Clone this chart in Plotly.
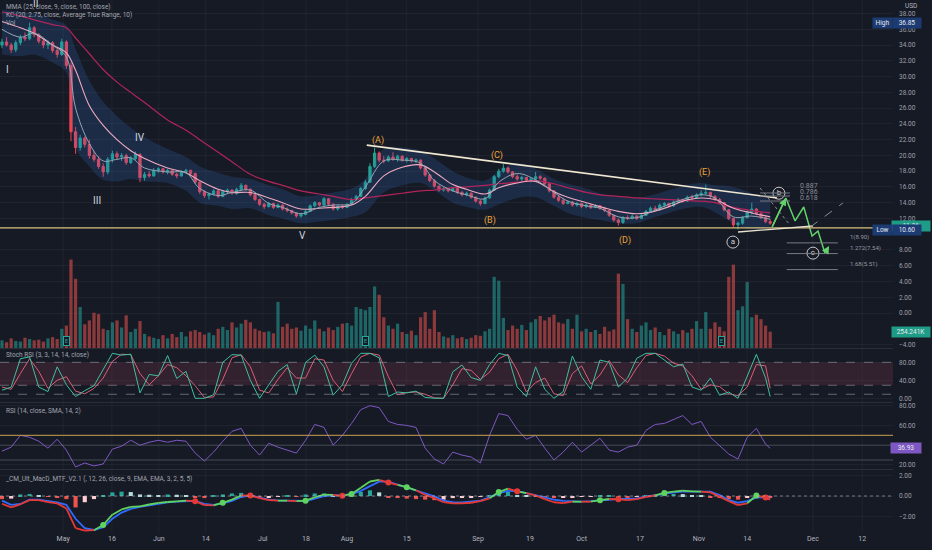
import plotly.graph_objects as go

### DATA ###

# daily candles, one per bar index
opens = [34.0, 34.4, 34.0, 33.4, 34.3, 35.0, 34.8, 36.2, 35.3, 34.5,
         34.0, 34.3, 33.3, 32.8, 34.4, 31.4, 23.0, 21.0, 22.2, 21.4,
         20.0, 19.5, 18.6, 17.9, 19.5, 20.2, 19.8, 20.0, 19.1, 19.6,
         20.1, 17.2, 17.6, 17.4, 18.1, 18.3, 17.9, 18.1, 17.6, 17.4,
         17.9, 18.1, 17.7, 16.6, 15.4, 14.9, 15.1, 15.5, 14.8, 15.4,
         15.6, 15.2, 15.7, 16.2, 15.7, 15.0, 14.4, 13.8, 13.5, 13.9,
         13.4, 13.7, 13.2, 13.0, 12.7, 12.3, 12.5, 12.9, 13.6, 14.0,
         13.7, 14.5, 13.8, 13.2, 13.5, 13.4, 13.8, 14.4, 14.8, 15.8,
         16.6, 18.6, 20.3, 19.4, 19.3, 19.8, 19.5, 19.9, 19.4, 19.6,
         19.3, 19.4, 18.4, 17.5, 16.8, 16.1, 15.6, 15.8, 15.5, 15.8,
         15.3, 15.0, 15.2, 14.7, 14.2, 13.9, 14.6, 15.6, 17.3, 18.0,
         18.4, 17.9, 17.3, 17.0, 17.2, 16.8, 17.0, 17.3, 17.1, 16.4,
         15.5, 14.7, 14.3, 13.9, 14.1, 13.7, 13.9, 13.5, 13.7, 13.4,
         13.6, 13.3, 13.0, 12.4, 11.8, 11.5, 12.1, 12.0, 12.3, 12.0,
         12.4, 12.9, 13.3, 13.1, 13.7, 13.9, 13.6, 14.1, 14.4, 14.2,
         14.7, 14.6, 15.0, 15.2, 15.3, 14.8, 14.4, 14.0, 13.1, 12.0,
         11.2, 11.4, 12.1, 12.8, 13.2, 12.6, 12.1, 11.6]
highs = [34.8, 35.0, 34.3, 34.6, 35.3, 35.6, 36.85, 36.4, 35.5, 34.9,
         34.6, 34.5, 33.6, 34.8, 34.6, 31.8, 23.6, 22.6, 22.4, 22.0,
         20.6, 19.9, 19.0, 19.8, 20.6, 20.5, 20.3, 20.2, 19.9, 20.5,
         20.3, 17.9, 18.0, 18.4, 18.5, 18.4, 18.3, 18.2, 17.8, 18.1,
         18.3, 18.2, 17.8, 16.8, 15.6, 15.3, 15.7, 15.6, 15.6, 15.8,
         15.7, 15.9, 16.5, 16.3, 15.8, 15.1, 14.5, 14.0, 14.1, 14.0,
         13.9, 13.8, 13.4, 13.1, 12.8, 12.7, 13.1, 13.8, 14.2, 14.1,
         14.7, 14.6, 13.9, 13.7, 13.8, 13.9, 14.6, 15.0, 16.0, 16.9,
         19.0, 21.0, 20.5, 19.9, 20.0, 20.4, 20.1, 20.0, 19.8, 19.7,
         19.6, 19.5, 18.5, 17.6, 17.0, 16.2, 16.0, 15.9, 16.0, 15.9,
         15.5, 15.4, 15.3, 14.8, 14.4, 14.8, 15.8, 17.5, 18.3, 18.9,
         18.6, 18.0, 17.6, 17.4, 17.3, 17.2, 17.9, 17.5, 17.2, 16.5,
         15.6, 14.9, 14.6, 14.3, 14.2, 14.1, 14.0, 13.9, 13.8, 13.8,
         13.7, 13.5, 13.1, 12.5, 12.0, 12.3, 12.4, 12.5, 12.4, 12.6,
         13.1, 13.5, 13.6, 13.9, 14.1, 14.0, 14.3, 14.6, 14.5, 14.9,
         15.0, 15.2, 15.6, 16.3, 15.4, 15.0, 14.6, 14.1, 13.2, 12.1,
         11.6, 12.3, 13.0, 14.0, 13.3, 12.8, 12.3, 11.9]
lows = [33.6, 33.8, 33.0, 33.1, 34.0, 34.5, 34.6, 35.0, 34.2, 33.6,
        33.5, 33.0, 32.4, 32.6, 31.0, 21.8, 20.2, 20.6, 21.0, 19.6,
        19.2, 18.3, 17.3, 17.6, 19.1, 19.4, 19.3, 18.8, 18.9, 19.4,
        16.6, 16.8, 17.2, 17.3, 17.8, 17.7, 17.6, 17.4, 17.1, 17.3,
        17.7, 17.5, 16.4, 15.1, 14.6, 14.4, 14.9, 14.6, 14.7, 15.1,
        15.0, 15.0, 15.6, 15.5, 14.8, 14.2, 13.6, 13.2, 13.4, 13.2,
        13.3, 13.0, 12.8, 12.5, 12.1, 12.1, 12.4, 12.8, 13.4, 13.5,
        13.6, 13.6, 13.0, 13.0, 13.2, 13.3, 13.7, 14.2, 14.7, 15.6,
        16.5, 18.4, 19.1, 19.0, 19.2, 19.3, 19.2, 19.2, 19.1, 19.1,
        19.0, 18.2, 17.3, 16.6, 15.9, 15.4, 15.4, 15.3, 15.4, 15.1,
        14.8, 14.8, 14.5, 14.0, 13.6, 13.8, 14.5, 15.5, 17.1, 17.8,
        17.7, 17.1, 16.8, 16.7, 16.6, 16.6, 16.9, 16.9, 16.2, 15.3,
        14.5, 14.1, 13.7, 13.8, 13.5, 13.5, 13.3, 13.3, 13.2, 13.3,
        13.1, 12.8, 12.2, 11.6, 11.1, 11.3, 11.8, 11.9, 11.8, 11.9,
        12.3, 12.8, 12.9, 13.0, 13.5, 13.4, 13.5, 14.0, 14.0, 14.1,
        14.4, 14.5, 14.8, 15.0, 14.6, 14.2, 13.8, 12.9, 11.8, 10.9,
        10.6, 11.2, 12.0, 12.5, 12.4, 11.9, 11.4, 11.2]
closes = [34.4, 34.0, 33.4, 34.3, 35.0, 34.8, 36.2, 35.3, 34.5, 34.0,
          34.3, 33.3, 32.8, 34.4, 31.4, 23.0, 21.0, 22.2, 21.4, 20.0,
          19.5, 18.6, 17.9, 19.5, 20.2, 19.8, 20.0, 19.1, 19.6, 20.1,
          17.2, 17.6, 17.4, 18.1, 18.3, 17.9, 18.1, 17.6, 17.4, 17.9,
          18.1, 17.7, 16.6, 15.4, 14.9, 15.1, 15.5, 14.8, 15.4, 15.6,
          15.2, 15.7, 16.2, 15.7, 15.0, 14.4, 13.8, 13.5, 13.9, 13.4,
          13.7, 13.2, 13.0, 12.7, 12.3, 12.5, 12.9, 13.6, 14.0, 13.7,
          14.5, 13.8, 13.2, 13.5, 13.4, 13.8, 14.4, 14.8, 15.8, 16.6,
          18.6, 20.3, 19.4, 19.3, 19.8, 19.5, 19.9, 19.4, 19.6, 19.3,
          19.4, 18.4, 17.5, 16.8, 16.1, 15.6, 15.8, 15.5, 15.8, 15.3,
          15.0, 15.2, 14.7, 14.2, 13.9, 14.6, 15.6, 17.3, 18.0, 18.4,
          17.9, 17.3, 17.0, 17.2, 16.8, 17.0, 17.3, 17.1, 16.4, 15.5,
          14.7, 14.3, 13.9, 14.1, 13.7, 13.9, 13.5, 13.7, 13.4, 13.6,
          13.3, 13.0, 12.4, 11.8, 11.5, 12.1, 12.0, 12.3, 12.0, 12.4,
          12.9, 13.3, 13.1, 13.7, 13.9, 13.6, 14.1, 14.4, 14.2, 14.7,
          14.6, 15.0, 15.2, 15.3, 14.8, 14.4, 14.0, 13.1, 12.0, 11.2,
          11.4, 12.1, 12.8, 13.2, 12.6, 12.1, 11.6, 11.4]
# volume in thousands
volumes = [120, 90, 150, 110, 100, 160, 140, 120, 130, 100,
           150, 170, 140, 300, 350, 1380, 1080, 640, 370, 430,
           550, 530, 300, 280, 400, 430, 320, 510, 250, 300,
           420, 220, 180, 160, 140, 200, 150, 220, 170, 250,
           180, 260, 280, 250, 210, 240, 200, 300, 330, 280,
           400, 320, 380, 440, 400, 300, 270, 250, 260, 230,
           720, 330, 380, 300, 320, 270, 350, 300, 430, 300,
           260, 320, 280, 330, 380, 390, 350, 640, 610, 590,
           640, 960, 830, 480, 350, 300, 380, 250, 220, 270,
           200, 480, 560, 300, 590, 250, 180, 160, 200, 150,
           170, 140, 160, 200, 190, 260, 300, 1110, 1050, 470,
           280, 350, 300, 360, 280, 400, 450, 500, 430, 480,
           520, 400, 380, 450, 300, 520, 260, 300, 250, 280,
           220, 330, 260, 290, 1160, 1000, 450, 300, 250, 350,
           400, 280, 320, 250, 200, 300, 260, 220, 280, 240,
           300, 420, 300, 560, 300, 400, 330, 260, 1110, 1300,
           590, 650, 1030, 480, 520, 450, 350, 254.241]

# moving averages and keltner channel, read every few bars
ma_x = [0, 4, 7, 11, 14, 16, 19, 22, 25, 28, 31, 36, 40, 43, 47, 50, 54, 58, 61, 65,
        69, 72, 76, 79, 83, 87, 91, 94, 98, 101, 105, 108, 112, 116, 120, 123, 127, 130,
        134, 138, 141, 145, 148, 152, 155, 159, 163, 167]
ma9 = [36.0, 35.0, 35.5, 34.0, 32.5, 26.0, 21.5, 19.3, 19.5, 19.7,
       18.4, 17.9, 17.8, 15.8, 14.9, 15.3, 15.6, 13.9, 13.4, 12.6,
       13.4, 13.7, 13.9, 16.0, 19.3, 19.4, 19.0, 16.8, 15.5, 15.0,
       14.5, 16.6, 17.7, 16.9, 15.3, 14.2, 13.6, 13.3, 12.2, 12.1,
       12.8, 13.8, 14.4, 15.0, 14.6, 12.2, 12.3, 11.9]
ma25 = [37.0, 36.2, 35.5, 34.0, 33.0, 30.8, 26.3, 23.8, 22.0, 20.6,
        19.6, 18.4, 17.8, 16.8, 15.7, 15.3, 15.3, 14.6, 14.0, 13.2,
        13.3, 13.4, 13.7, 14.8, 17.4, 18.5, 18.8, 17.9, 16.3, 15.7,
        15.1, 15.9, 16.5, 16.7, 15.4, 14.7, 14.0, 13.5, 12.9, 12.6,
        12.8, 13.5, 14.2, 14.6, 14.4, 13.3, 12.7, 12.2]
ma100 = [38.2, 37.7, 37.2, 36.6, 36.2, 34.9, 32.9, 30.9, 29.3, 28.0,
         26.7, 24.5, 23.2, 22.0, 20.4, 19.2, 17.6, 16.7, 16.2, 15.5,
         15.1, 14.8, 14.4, 14.6, 14.9, 15.2, 15.5, 15.6, 15.9, 16.0,
         16.2, 16.4, 16.6, 16.8, 16.4, 15.9, 15.3, 15.0, 14.8, 14.6,
         14.5, 14.4, 14.3, 14.2, 14.0, 13.4, 13.0, 12.7]
kc_upper = [38.5, 38.2, 38.0, 37.2, 36.5, 33.5, 29.5, 26.8, 25.0, 23.5,
            22.3, 20.8, 19.8, 18.6, 17.8, 17.3, 17.0, 16.2, 15.7, 14.8,
            15.0, 15.3, 15.8, 17.0, 20.8, 21.0, 20.6, 19.6, 18.0, 17.2,
            16.8, 18.0, 19.0, 18.3, 17.0, 16.4, 15.8, 15.2, 14.8, 14.6,
            14.9, 15.6, 16.1, 16.5, 16.2, 16.0, 15.2, 14.4]
kc_lower = [32.8, 32.6, 32.8, 31.8, 30.5, 21.0, 18.6, 16.9, 16.7, 17.0,
            16.7, 16.5, 15.5, 14.0, 13.6, 13.2, 13.3, 12.4, 12.0, 11.4,
            11.6, 11.8, 12.2, 12.8, 15.3, 16.2, 16.5, 15.6, 14.0, 13.5,
            13.1, 13.8, 14.6, 14.7, 13.6, 12.7, 12.1, 11.8, 11.4, 11.4,
            12.0, 12.7, 13.2, 13.5, 12.8, 11.4, 10.6, 10.8]

# oscillators, read every second bar
ind_x = list(range(0, 168, 2)) + [167]
stoch_k = [18, 25, 88, 92, 25, 15, 70, 30, 4, 17,
           28, 63, 100, 96, 98, 12, 53, 50, 95, 44,
           60, 0, 0, 8, 80, 97, 96, 40, 0, 30,
           60, 75, 10, 80, 96, 70, 7, 30, 78, 100,
           100, 90, 4, 14, 12, 16, 2, 0, 0, 59,
           74, 46, 40, 75, 100, 95, 25, 4, 70, 20,
           0, 15, 94, 48, 20, 85, 80, 25, 45, 89,
           100, 100, 85, 70, 76, 25, 18, 45, 7, 14,
           0, 50, 98, 45, 4]
stoch_d = [25, 20, 55, 88, 60, 22, 40, 48, 16, 10,
           22, 45, 82, 98, 97, 55, 30, 50, 75, 68,
           50, 28, 2, 3, 42, 90, 97, 70, 18, 12,
           42, 68, 45, 45, 88, 85, 40, 15, 55, 92,
           100, 96, 48, 8, 13, 14, 9, 1, 0, 30,
           66, 62, 42, 58, 88, 98, 62, 14, 35, 45,
           10, 6, 55, 72, 32, 52, 84, 52, 35, 68,
           95, 100, 94, 78, 72, 50, 20, 30, 26, 10,
           6, 25, 75, 72, 22]
rsi = [34, 38, 50, 48, 44, 37, 46, 35, 18, 22,
       19, 21, 36, 39, 45, 40, 43, 45, 43, 45,
       44, 32, 24, 33, 44, 54, 57, 40, 30, 42,
       38, 35, 32, 45, 61, 58, 40, 50, 62, 76,
       80, 78, 64, 61, 60, 58, 37, 26, 21, 33,
       30, 28, 22, 50, 72, 70, 56, 46, 50, 37,
       25, 33, 43, 33, 40, 47, 35, 33, 38, 40,
       55, 61, 62, 66, 70, 61, 64, 48, 40, 31,
       26, 48, 57, 41, 36.93]
macd_line = [-0.75, -1.1, -0.8, -0.4, -0.4, -0.6, -0.71, -1.2, -3.1, -3.33,
             -3.3, -2.8, -1.8, -1.3, -1.05, -1.0, -0.82, -0.66, -0.58, -0.52,
             -0.45, -0.5, -0.88, -0.9, -0.65, -0.35, 0.05, 0.05, -0.2, -0.4,
             -0.45, -0.45, -0.5, -0.45, -0.12, 0.14, 0.1, 0.02, 0.2, 0.8,
             1.4, 1.55, 1.3, 1.08, 0.85, 0.55, 0.1, -0.2, -0.6, -0.71,
             -0.71, -0.65, -0.5, -0.22, 0.38, 0.72, 0.45, 0.28, 0.05, -0.3,
             -0.6, -0.68, -0.55, -0.55, -0.55, -0.4, -0.29, -0.32, -0.39, -0.3,
             -0.08, 0.05, 0.3, 0.42, 0.52, 0.45, 0.42, 0.35, -0.06, -0.5,
             -0.88, -0.7, 0.05, -0.15, -0.35]
macd_signal = [-0.45, -0.85, -0.77, -0.35, -0.35, -0.5, -0.61, -0.85, -2.2, -3.1,
               -3.28, -3.0, -2.2, -1.6, -1.25, -1.05, -0.9, -0.73, -0.62, -0.54,
               -0.48, -0.47, -0.75, -0.86, -0.72, -0.48, -0.1, 0.06, -0.16, -0.35,
               -0.42, -0.45, -0.48, -0.48, -0.26, -0.02, 0.06, 0.08, 0.18, 0.5,
               0.95, 1.38, 1.38, 1.1, 0.82, 0.55, 0.3, -0.02, -0.45, -0.6,
               -0.62, -0.55, -0.45, -0.12, 0.25, 0.5, 0.48, 0.28, 0.08, -0.15,
               -0.35, -0.47, -0.52, -0.55, -0.5, -0.42, -0.3, -0.29, -0.29, -0.24,
               -0.05, 0.1, 0.24, 0.36, 0.42, 0.42, 0.42, 0.42, 0.1, -0.4,
               -0.65, -0.5, -0.15, -0.12, -0.28]
macd_hist = [-0.3, -0.25, 0.15, 0.2, 0.1, -0.05, -0.1, -0.3, -1.1, -0.6,
             -0.3, 0.1, 0.35, 0.42, 0.38, 0.15, 0.12, 0.1, 0.15, 0.12,
             0.1, -0.1, -0.2, 0.1, 0.15, 0.25, 0.3, -0.1, -0.2, -0.1,
             -0.05, 0.05, -0.05, 0.15, 0.25, 0.25, 0.1, -0.05, 0.15, 0.4,
             0.55, 0.35, -0.1, -0.2, -0.25, -0.3, -0.35, -0.4, -0.35, -0.2,
             -0.1, -0.1, -0.05, 0.1, 0.35, 0.4, 0.1, 0.05, -0.05, -0.12,
             -0.2, -0.15, -0.1, -0.05, -0.05, 0.05, 0.1, -0.05, -0.1, -0.05,
             0.1, 0.15, 0.2, 0.2, 0.18, 0.1, 0.05, -0.1, -0.2, -0.3,
             -0.35, -0.15, 0.25, 0.1, -0.1]

# x axis labels (bar positions)
tick_pos = [13.3, 23.9, 34.1, 44.3, 56.7, 66.1, 75.0, 88.0, 103.5, 114.8, 126.0, 138.7,
            151.5, 162.0, 176.3, 187.0]
tick_text = ['May', '16', 'Jun', '14', 'Jul', '18', 'Aug', '15', 'Sep', '19', 'Oct', '17',
             'Nov', '14', 'Dec', '12']
# price ticks that are not hidden behind the value boxes on the scale
price_ticks = [-4, 0, 2, 4, 6, 8, 12, 14, 16, 18, 20, 22, 24, 26, 28, 30, 32, 34, 36, 38]

# drawings on the price pane (bar index, price)
wave_labels = ['I', 'II', 'III', 'IV', 'V']
wave_x = [1.1, 7.2, 20.7, 30.0, 65.4]
wave_y = [30.96, 39.3, 14.3, 22.3, 9.8]
abc_labels = ['(A)', '(B)', '(C)', '(D)', '(E)']
abc_x = [81.7, 106.1, 107.6, 135.4, 152.8]
abc_y = [21.95, 11.8, 20.05, 9.14, 17.77]
small_labels = ['a', 'b', 'c']
small_x = [158.9, 168.9, 176.3]
small_y = [9.0, 15.2, 7.6]
proj_x = [167.4, 170.4, 172.4, 174.3, 176.1, 177.4, 178.9]
proj_y = [10.9, 14.6, 11.7, 13.45, 9.77, 10.4, 7.6]
fib_levels = [8.90, 7.54, 5.51]
fib_names = ['1(8.90)', '1.272(7.54)', '1.68(5.51)']
retr_levels = [15.23, 14.85, 14.21]
retr_names = ['0.887', '0.786', '0.618']
support_price = 10.8

### STYLE ###

BG = '#161a25'
TXT = '#9ea1aa'
UP = '#22a38f'
DOWN = '#ef4352'
GRID = 'rgba(255,255,255,0.045)'
PW, PH = 893.0, 533.0


def fx(p):
    return p / PW


def fy(p):
    return 1 - p / PH


bars = list(range(len(closes)))
vol_colors = ['rgba(38,166,154,0.55)' if c >= o else 'rgba(239,83,80,0.55)' for o, c in zip(opens, closes)]

fig = go.Figure()

# keltner channel
fig.add_trace(go.Scatter(x=ma_x, y=kc_lower, mode='lines', line=dict(width=0, shape='spline'),
                         hoverinfo='skip'))
fig.add_trace(go.Scatter(x=ma_x, y=kc_upper, mode='lines', line=dict(width=0, shape='spline'),
                         fill='tonexty', fillcolor='rgba(55,120,210,0.2)', hoverinfo='skip'))

fig.add_trace(go.Scatter(x=ma_x, y=ma100, mode='lines', line=dict(color='#b0245a', width=1.2, shape='spline')))
fig.add_trace(go.Scatter(x=ma_x, y=ma25, mode='lines', line=dict(color='#f0aabf', width=1.1, shape='spline')))
fig.add_trace(go.Scatter(x=ma_x, y=ma9, mode='lines', line=dict(color='#93a6b3', width=1, shape='spline')))

fig.add_trace(go.Candlestick(x=bars, open=opens, high=highs, low=lows, close=closes,
                             increasing=dict(line=dict(color=UP, width=1), fillcolor=UP),
                             decreasing=dict(line=dict(color=DOWN, width=1), fillcolor=DOWN),
                             whiskerwidth=0))

# volume
fig.add_trace(go.Bar(x=bars, y=volumes, marker=dict(color=vol_colors, line=dict(width=0)),
                     width=0.7, yaxis='y2'))

# projection zigzag
fig.add_trace(go.Scatter(x=proj_x, y=proj_y, mode='lines', line=dict(color='#63d26a', width=1.5)))

# circled a b c
fig.add_trace(go.Scatter(x=small_x, y=small_y, mode='markers+text', text=small_labels,
                         textposition='middle center', textfont=dict(size=8, color='#d0d0d0'),
                         marker=dict(symbol='circle-open', size=12, color='#c8c8c8', line=dict(width=1))))

# stoch rsi
fig.add_trace(go.Scatter(x=ind_x, y=stoch_d, mode='lines', line=dict(color='#d95f76', width=1), yaxis='y3'))
fig.add_trace(go.Scatter(x=ind_x, y=stoch_k, mode='lines', line=dict(color='#3fbf9f', width=1), yaxis='y3'))

# rsi
fig.add_trace(go.Scatter(x=ind_x, y=rsi, mode='lines', line=dict(color='#7e57c2', width=1), yaxis='y4'))

# macd histogram
hist_colors = []
prev = 0
for h in macd_hist:
    if h >= 0:
        hist_colors.append('#26a69a' if h >= prev else '#b2dfdb')
    else:
        hist_colors.append('#ef5350' if h < prev else '#ffcdd2')
    prev = h
fig.add_trace(go.Bar(x=ind_x, y=macd_hist, marker=dict(color=hist_colors, line=dict(width=0)),
                     width=0.9, yaxis='y5'))

fig.add_trace(go.Scatter(x=ind_x, y=macd_signal, mode='lines', line=dict(color='#2f6bff', width=1.8), yaxis='y5'))

gx, gy, rx, ry = [], [], [], []
for i in range(len(ind_x) - 1):
    sx = [ind_x[i], ind_x[i + 1], None]
    sy = [macd_line[i], macd_line[i + 1], None]
    if macd_line[i + 1] >= macd_signal[i + 1]:
        gx += sx
        gy += sy
    else:
        rx += sx
        ry += sy
fig.add_trace(go.Scatter(x=gx, y=gy, mode='lines', line=dict(color='#5fd35f', width=1.8), yaxis='y5'))
fig.add_trace(go.Scatter(x=rx, y=ry, mode='lines', line=dict(color='#e53935', width=1.8), yaxis='y5'))

dot_x, dot_y, dot_c = [], [], []
for i in range(1, len(ind_x)):
    d0 = macd_line[i - 1] - macd_signal[i - 1]
    d1 = macd_line[i] - macd_signal[i]
    if d0 * d1 < 0:
        dot_x.append(ind_x[i])
        dot_y.append(macd_line[i])
        dot_c.append('#5fd35f' if d1 > 0 else '#e53935')
fig.add_trace(go.Scatter(x=dot_x, y=dot_y, mode='markers', marker=dict(color=dot_c, size=6), yaxis='y5'))

### SHAPES ###

shapes = []
for t in tick_pos:
    shapes.append(dict(type='line', xref='x', yref='paper', x0=t, x1=t, y0=0, y1=1,
                       line=dict(color=GRID, width=1), layer='below'))
for yp in [348.5, 402.5, 469.5]:
    shapes.append(dict(type='line', xref='paper', yref='paper', x0=0, x1=1, y0=fy(yp), y1=fy(yp),
                       line=dict(color='#2a2e39', width=1)))

# stoch bands
shapes.append(dict(type='rect', xref='paper', yref='y3', x0=0, x1=1, y0=29, y1=80,
                   fillcolor='rgba(150,60,80,0.22)', line=dict(width=0), layer='below'))
for lv in [80, 29, 9]:
    shapes.append(dict(type='line', xref='paper', yref='y3', x0=0, x1=1, y0=lv, y1=lv,
                       line=dict(color='rgba(150,153,163,0.6)', width=1, dash='dash')))
# rsi levels
shapes.append(dict(type='line', xref='paper', yref='y4', x0=0, x1=1, y0=50, y1=50,
                   line=dict(color='#c9a24e', width=1)))
for lv in [40, 25]:
    shapes.append(dict(type='line', xref='paper', yref='y4', x0=0, x1=1, y0=lv, y1=lv,
                       line=dict(color='rgba(120,123,134,0.5)', width=1)))
# macd zero
shapes.append(dict(type='line', xref='paper', yref='y5', x0=0, x1=1, y0=0, y1=0,
                   line=dict(color='rgba(180,183,190,0.6)', width=1, dash='dot')))

# trend lines
shapes.append(dict(type='line', xref='x', yref='y', x0=-1, x1=190, y0=support_price, y1=support_price,
                   line=dict(color='#d9c27e', width=1.4)))
shapes.append(dict(type='line', xref='x', yref='y', x0=79.3, x1=168.5, y0=21.3, y1=14.6,
                   line=dict(color='#efe7d0', width=1.6)))
shapes.append(dict(type='line', xref='x', yref='y', x0=160.0, x1=176.3, y0=10.28, y1=11.04,
                   line=dict(color='#e6e0cc', width=1.3)))
shapes.append(dict(type='line', xref='x', yref='y', x0=175.7, x1=182.8, y0=10.9, y1=13.96,
                   line=dict(color='#8a8d96', width=1, dash='dash')))
shapes.append(dict(type='line', xref='x', yref='y', x0=164.8, x1=171.3, y0=15.86, y1=11.17,
                   line=dict(color='#8a8d96', width=1, dash='dot')))
for lv in fib_levels:
    shapes.append(dict(type='line', xref='x', yref='y', x0=170.6, x1=181.7, y0=lv, y1=lv,
                       line=dict(color='#787b86', width=1)))
for lv in retr_levels:
    shapes.append(dict(type='line', xref='x', yref='y', x0=164.8, x1=171.3, y0=lv, y1=lv,
                       line=dict(color='#787b86', width=1)))

### ANNOTATIONS ###

ann = []
legend_rows = [('MMA (25, close, 9, close, 100, close)', 7),
               ('KC (20, 2.75, close, Average True Range, 10)', 15),
               ('Vol', 23),
               ('Stoch RSI (3, 3, 14, 14, close)', 355),
               ('RSI (14, close, SMA, 14, 2)', 411),
               ('_CM_Ult_MacD_MTF_V2.1 (, 12, 26, close, 9, EMA, EMA, 3, 2, 5, 5)', 479)]
for txt, yp in legend_rows:
    ann.append(dict(xref='paper', yref='paper', x=fx(4), y=fy(yp), text=txt, showarrow=False,
                    xanchor='left', yanchor='middle', font=dict(size=6.5, color='#a3a6af')))

for t, x, y in zip(wave_labels, wave_x, wave_y):
    ann.append(dict(x=x, y=y, text=t, showarrow=False, xanchor='center', yanchor='middle',
                    font=dict(size=10, color='#d1d4dc')))
for t, x, y in zip(abc_labels, abc_x, abc_y):
    ann.append(dict(x=x, y=y, text=t, showarrow=False, xanchor='center', yanchor='middle',
                    font=dict(size=9, color='#eca53a')))
for t, lv in zip(fib_names, fib_levels):
    ann.append(dict(x=183.9, y=lv, text=t, showarrow=False, xanchor='left', yanchor='bottom',
                    font=dict(size=6, color='#9598a1')))
for t, y in zip(retr_names, [16.1, 15.4, 14.6]):
    ann.append(dict(x=173.0, y=y, text=t, showarrow=False, xanchor='left', yanchor='middle',
                    font=dict(size=7, color='#8a8d96')))

# arrow heads of the projection
ann.append(dict(x=proj_x[1], y=proj_y[1], ax=proj_x[0], ay=proj_y[0], axref='x', ayref='y',
                text='', showarrow=True, arrowhead=2, arrowsize=1, arrowwidth=1.5, arrowcolor='#63d26a'))
ann.append(dict(x=179.8, y=8.5, ax=proj_x[-1], ay=proj_y[-1], axref='x', ayref='y',
                text='', showarrow=True, arrowhead=2, arrowsize=1, arrowwidth=1.5, arrowcolor='#63d26a'))

# earnings markers on volume
for bx in [14, 79, 156.5]:
    ann.append(dict(x=bx, y=110, yref='y2', text='E', showarrow=False, xanchor='center', yanchor='middle',
                    font=dict(size=5.5, color='#26a69a'), bordercolor='#26a69a', borderwidth=1,
                    borderpad=1, bgcolor=BG))

# right scale labels
ann.append(dict(xref='paper', yref='paper', x=fx(903), y=fy(6), text='USD', showarrow=False,
                xanchor='left', yanchor='middle', font=dict(size=6.5, color='#b2b5be')))
boxes = [('High', 882, 23, '#1d3b73', 17), ('36.85', 907, 23, '#1d3b73', 26),
         ('11.36', 911, 226, '#1f9c88', 36),
         ('Low', 882, 230, '#1d3b73', 17), ('10.60', 907, 230, '#1d3b73', 26),
         ('254.241K', 911, 331.5, '#1f9c88', 36), ('36.93', 906, 448, '#7e57c2', 28)]
for txt, xp, yp, col, w in boxes:
    ann.append(dict(xref='paper', yref='paper', x=fx(xp), y=fy(yp), text=txt, showarrow=False,
                    xanchor='center', yanchor='middle', bgcolor=col, borderpad=1, width=w,
                    font=dict(size=6.5, color='#e6e8ee')))

### LAYOUT ###

ytick = dict(size=6.5, color=TXT)
fig.update_layout(
    width=932, height=550,
    margin=dict(l=0, r=39, t=0, b=17),
    paper_bgcolor=BG, plot_bgcolor=BG,
    showlegend=False, hovermode=False,
    font=dict(family='Roboto', color=TXT, size=7),
    xaxis=dict(range=[-0.43, 193.7], domain=[0, 1], anchor='y5', showgrid=False, zeroline=False,
               tickvals=tick_pos, ticktext=tick_text, ticks='', tickfont=dict(size=7, color='#b2b5be'),
               rangeslider=dict(visible=False), showline=False),
    yaxis=dict(domain=[fy(348), 1], range=[-4.44, 39.72], side='right', anchor='x',
               tickvals=price_ticks, tickformat='.2f', gridcolor=GRID, zeroline=False,
               ticks='', tickfont=ytick, ticklabelstandoff=5),
    yaxis2=dict(overlaying='y', range=[0, 5430], visible=False),
    yaxis3=dict(domain=[fy(402), fy(349)], range=[-8.2, 109.6], side='right', anchor='x',
                tickvals=[0, 40, 80], tickformat='.2f', gridcolor=GRID, zeroline=False,
                ticks='', tickfont=ytick, ticklabelstandoff=5),
    yaxis4=dict(domain=[fy(469), fy(403)], range=[15.9, 82.7], side='right', anchor='x',
                tickvals=[20, 60, 80], tickformat='.2f', gridcolor=GRID, zeroline=False,
                ticks='', tickfont=ytick, ticklabelstandoff=5),
    yaxis5=dict(domain=[0, fy(470)], range=[-3.57, 2.51], side='right', anchor='x',
                tickvals=[-2, 0, 2], tickformat='.2f', gridcolor=GRID, zeroline=False,
                ticks='', tickfont=ytick, ticklabelstandoff=5),
    shapes=shapes,
    annotations=ann,
)

# page has a default body margin; drop it so the chart fills the window
fig.write_html("out.html", config={'displayModeBar': False},
               post_script="document.body.style.margin='0';document.body.style.background='#161a25';")
